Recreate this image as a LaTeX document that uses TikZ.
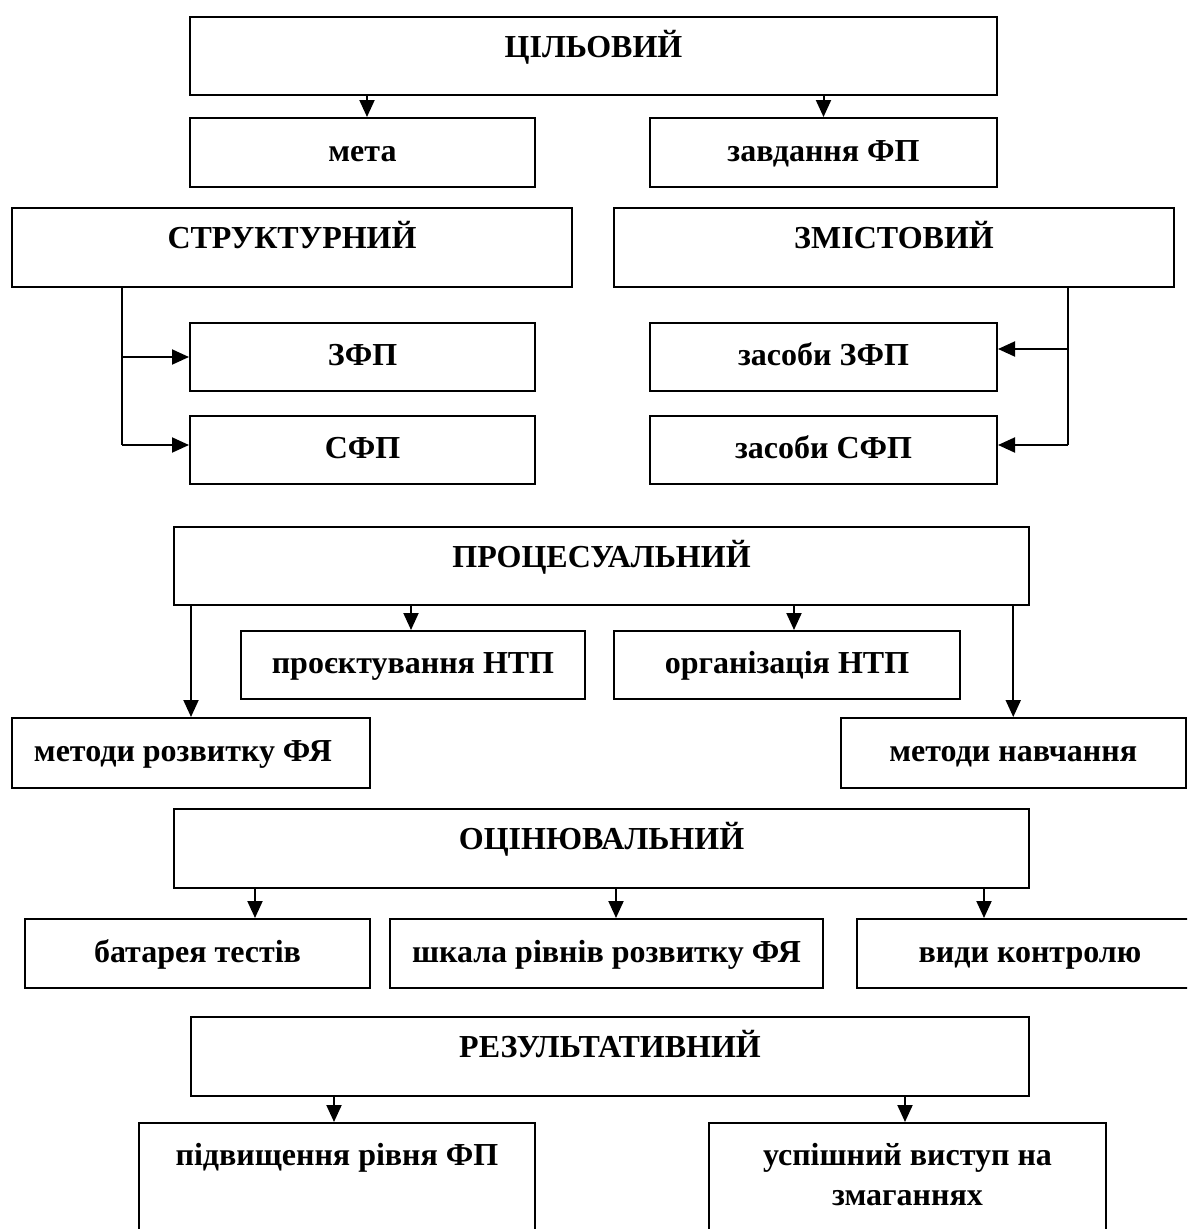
\documentclass[tikz,border=0pt]{standalone}
\usepackage{fontspec}
\setmainfont{Liberation Serif}
\usetikzlibrary{arrows.meta}
\tikzset{
  box/.style={draw, line width=2pt, inner sep=0pt, align=center,
    font=\bfseries\fontsize{32}{40}\selectfont, text height=22pt, text depth=5pt},
  bigbox/.style={box, text height=22pt, text depth=19.8pt},
  openbox/.style={box, anchor=north, text height=42pt, text depth=100pt},
  conn/.style={line width=2pt},
  arr/.style={line width=2pt, -{Triangle[length=17pt,width=15pt]}}
}
\begin{document}
\begin{tikzpicture}[x=1pt,y=-1pt]
\useasboundingbox (0,0) rectangle (1187,1229);
\clip (0,0) rectangle (1187,1229);
\fill[white] (0,0) rectangle (1187,1229);
% level 1
\node[bigbox, minimum width=807, minimum height=78] (cil) at (593.5,56) {ЦІЛЬОВИЙ};
\node[box, minimum width=345, minimum height=69] (meta) at (362.5,152.5) {мета};
\node[box, minimum width=347, minimum height=69] (zavd) at (823.5,152.5) {завдання ФП};
% level 2
\node[bigbox, minimum width=560, minimum height=79] (str) at (292,247.5) {СТРУКТУРНИЙ};
\node[bigbox, minimum width=560, minimum height=79] (zmist) at (894,247.5) {ЗМІСТОВИЙ};
\node[box, minimum width=345, minimum height=68] (zfp) at (362.5,357) {ЗФП};
\node[box, minimum width=345, minimum height=68] (sfp) at (362.5,450) {СФП};
\node[box, minimum width=347, minimum height=68] (zzfp) at (823.5,357) {засоби ЗФП};
\node[box, minimum width=347, minimum height=68] (zsfp) at (823.5,450) {засоби СФП};
% level 3
\node[bigbox, minimum width=855, minimum height=78] (proc) at (601.5,566) {ПРОЦЕСУАЛЬНИЙ};
\node[box, minimum width=344, minimum height=68] (proekt) at (413,665) {проєктування НТП};
\node[box, minimum width=346, minimum height=68] (org) at (787,665) {організація НТП};
\node[box, minimum width=358, minimum height=70] (mrfya) at (191,753) {методи розвитку ФЯ\hspace*{16pt}};
\node[box, minimum width=344.5, minimum height=70] (mnav) at (1013.25,753) {методи навчання};
% level 4
\node[bigbox, minimum width=855, minimum height=79] (ocin) at (601.5,848.5) {ОЦІНЮВАЛЬНИЙ};
\node[box, minimum width=345, minimum height=69] (bat) at (197.5,953.5) {батарея тестів};
\node[box, minimum width=433, minimum height=69] (shk) at (606.5,953.5) {шкала рівнів розвитку ФЯ};
\node[box, minimum width=346, minimum height=69] (vyd) at (1030,953.5) {види контролю};
% level 5
\node[bigbox, minimum width=838, minimum height=79] (rez) at (610,1056.5) {РЕЗУЛЬТАТИВНИЙ};
\node[openbox, minimum width=396] (pidv) at (337,1122) {підвищення рівня ФП};
\node[openbox, minimum width=397, text height=82pt, text depth=60pt] (usp) at (907.5,1122) {успішний виступ на\\змаганнях};
% connectors
\draw[arr] ([xshift=4.5pt]meta.north |- cil.south) -- ([xshift=4.5pt]meta.north);
\draw[arr] (zavd.north |- cil.south) -- (zavd.north);
\coordinate (sj) at (122,445);
\draw[conn] (str.south -| sj) -- (sj);
\draw[arr] (sj |- zfp.west) -- (zfp.west);
\draw[arr] (sj) -- (sj -| sfp.west);
\coordinate (zj) at (1068,445);
\draw[conn] (zmist.south -| zj) -- (zj);
\draw[arr] ([yshift=8pt]zzfp.east -| zj) -- ([yshift=8pt]zzfp.east);
\draw[arr] (zj) -- (zj -| zsfp.east);
\draw[arr] (proc.south -| mrfya.north) -- (mrfya.north);
\draw[arr] ([xshift=-2pt]proekt.north |- proc.south) -- ([xshift=-2pt]proekt.north);
\draw[arr] ([xshift=7pt]org.north |- proc.south) -- ([xshift=7pt]org.north);
\draw[arr] (mnav.north |- proc.south) -- (mnav.north);
\draw[arr] ([xshift=57.5pt]bat.north |- ocin.south) -- ([xshift=57.5pt]bat.north);
\draw[arr] ([xshift=9.5pt]shk.north |- ocin.south) -- ([xshift=9.5pt]shk.north);
\draw[arr] ([xshift=-46pt]vyd.north |- ocin.south) -- ([xshift=-46pt]vyd.north);
\draw[arr] ([xshift=-3pt]pidv.north |- rez.south) -- ([xshift=-3pt]pidv.north);
\draw[arr] ([xshift=-2.5pt]usp.north |- rez.south) -- ([xshift=-2.5pt]usp.north);
\end{tikzpicture}
\end{document}
